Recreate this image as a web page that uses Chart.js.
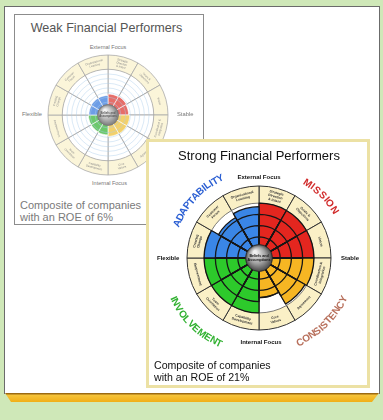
<!DOCTYPE html>
<html><head><meta charset="utf-8">
<script src="https://cdn.jsdelivr.net/npm/chart.js@4/dist/chart.umd.min.js"></script>
<style>
html,body{margin:0;padding:0;}
body{width:383px;height:420px;background:#cfe8b8;position:relative;overflow:hidden;font-family:"Liberation Sans",Arial,sans-serif;}
.abs{position:absolute;}
#panel{left:4px;top:6px;width:374px;height:387px;background:#fff;border:1px solid #6b6b6b;border-bottom:none;}
#band{left:5px;top:393px;width:374px;height:9px;background:linear-gradient(#9c6a12 0,#9c6a12 1px,#f6c43a 2px,#f1ae17 100%);clip-path:polygon(0 0,100% 0,calc(100% - 7px) 100%,6px 100%);}
#weak{left:14px;top:14px;width:188px;height:209px;border:1px solid #8c8c8c;background:#fff;}
#strong{left:146px;top:139px;width:224px;height:249px;box-sizing:border-box;border:3px solid #ece1a4;background:#fff;}
.lbl{position:absolute;white-space:nowrap;line-height:1;}
</style></head>
<body>
<div id="panel" class="abs"></div>
<div id="band" class="abs"></div>
<div id="weak" class="abs"></div>
<canvas id="cw" class="abs" width="124" height="124" style="left:46px;top:53px;width:124px;height:124px"></canvas>
<div id="strong" class="abs"></div>
<canvas id="cs" class="abs" width="148" height="148" style="left:185px;top:184px;width:148px;height:148px"></canvas>
<script>
// ---------- data ----------
const categories = ["Strategic Direction & Intent","Goals & Objectives","Vision",
  "Coordination & Integration","Agreement","Core Values",
  "Capability Development","Team Orientation","Empowerment",
  "Creating Change","Customer Focus","Organizational Learning"];
const labelLines = [["Strategic","Direction","& Intent"],["Goals &","Objectives"],["Vision"],
  ["Coordination &","Integration"],["Agreement"],["Core","Values"],
  ["Capability","Development"],["Team","Orientation"],["Empowerment"],
  ["Creating","Change"],["Customer","Focus"],["Organizational","Learning"]];
const traits = ["MISSION","CONSISTENCY","INVOLVEMENT","ADAPTABILITY"];
const strongValues = [100,100,100,100,96,66,100,100,100,100,82,92];
const weakValues   = [34,35,33,36,36,35,31,30,30,29,30,30];
const ringLevels = [25,50,75];
const weakRingLevels = [12.5,25,37.5,50,62.5,75,87.5];
const axisLabels = ["External Focus","Stable","Internal Focus","Flexible"];
const titles = ["Weak Financial Performers","Strong Financial Performers"];
const notes = [["Composite of companies","with an ROE of 6%"],["Composite of companies","with an ROE of 21%"]];
const centerLabel = ["Beliefs and","Assumptions"];

const SCALE_MIN = -22, FULL = 100, SCALE_MAX = 138;

// ---------- charts ----------
const decor = {
  id:'decor',
  afterDraw(chart, args, o){
    const s = chart.scales.r, ctx = chart.ctx;
    const rIn = s.getDistanceFromCenterForValue(FULL), rOut = s.getDistanceFromCenterForValue(SCALE_MAX);
    const rMid = (rIn + rOut)/2;
    ctx.save();
    ctx.font = (o.strong?'bold ':'') + o.fs + 'px "Liberation Sans", Arial, sans-serif';
    ctx.fillStyle = o.color; ctx.textAlign='center'; ctx.textBaseline='middle';
    labelLines.forEach((lines,i)=>{
      const p = s.getPointPosition(i, rMid, Math.PI/12);
      let rot = p.angle + Math.PI/2;
      while (rot > Math.PI) rot -= 2*Math.PI;
      while (rot < -Math.PI) rot += 2*Math.PI;
      if (rot > Math.PI/2 + 0.01 || rot < -Math.PI/2 - 0.01) rot -= Math.PI;
      ctx.save(); ctx.translate(p.x,p.y); ctx.rotate(rot);
      const lh = o.fs*1.15;
      lines.forEach((t,k)=>ctx.fillText(t,0,(k-(lines.length-1)/2)*lh));
      ctx.restore();
    });
    // central sphere
    const cx = s.xCenter, cy = s.yCenter, rs = o.sphere;
    const g = ctx.createRadialGradient(cx-rs*0.3, cy-rs*0.45, rs*0.1, cx, cy, rs);
    g.addColorStop(0, o.strong?'#f2f2f2':'#f4f4f4');
    g.addColorStop(0.55, o.strong?'#a3a3a3':'#b9b9b9');
    g.addColorStop(1, o.strong?'#474747':'#7a7a7a');
    ctx.beginPath(); ctx.arc(cx,cy,rs,0,Math.PI*2); ctx.fillStyle=g; ctx.fill();
    ctx.lineWidth=0.8; ctx.strokeStyle=o.strong?'#222':'#777'; ctx.stroke();
    ctx.font = 'bold ' + o.cfs + 'px "Liberation Sans", Arial, sans-serif';
    ctx.fillStyle = o.strong?'#111':'#555';
    ctx.fillText(centerLabel[0], cx, cy - o.cfs*0.6);
    ctx.fillText(centerLabel[1], cx, cy + o.cfs*0.6);
    ctx.restore();
  }
};

function wheel(id, values, strong){
  const pal = strong ? ['#e4261f','#f6b623','#2dca2b','#3a86e6'] : ['#e66e69','#f2d06c','#6dc86b','#6d9de6'];
  const colors = values.map((v,i)=>pal[Math.floor(i/3)]);
  const ds = [];
  if (strong) ringLevels.forEach(L=>ds.push({data:values.map(v=>Math.min(v,L)),backgroundColor:'rgba(0,0,0,0)',borderColor:'#161616',borderWidth:1.3}));
  ds.push({data:values,backgroundColor:colors,borderColor:strong?'#161616':'rgba(255,255,255,0.8)',borderWidth:strong?1.3:0.8});
  ds.push({data:values.map(()=>FULL),backgroundColor:'#ffffff',borderColor:strong?'#5a5a5a':'#a3a3a3',borderWidth:0.8});
  ds.push({data:values.map(()=>SCALE_MAX),backgroundColor:strong?'#faf0c6':'#fbf5d9',borderColor:strong?'#333':'#aaaaaa',borderWidth:strong?1:0.8});
  return new Chart(document.getElementById(id),{
    type:'polarArea',
    data:{labels:categories,datasets:ds.map(d=>Object.assign({clip:false},d))},
    options:{
      responsive:false, animation:false, events:[], devicePixelRatio:1,
      layout:{padding:2},
      plugins:{legend:{display:false},tooltip:{enabled:false},
        decor:{strong:strong,fs:strong?3.4:2.8,color:strong?'#333':'#8a8a8a',sphere:strong?13.5:10.5,cfs:strong?3.6:2.8}},
      scales:{r:{min:SCALE_MIN,max:SCALE_MAX,startAngle:0,
        ticks:{display:false},pointLabels:{display:false},angleLines:{display:false},
        afterBuildTicks:s=>{ if(!strong) s.ticks = weakRingLevels.map(v=>({value:v})); },
        grid:{display:!strong,circular:true,color:'rgba(170,205,235,0.55)',lineWidth:0.8,z:1}}}
    },
    plugins:[decor]
  });
}
wheel('cw', weakValues, false);
wheel('cs', strongValues, true);

// ---------- text ----------
function txt(s,x,y,css,align){
  const d=document.createElement('div'); d.className='lbl'; d.textContent=s;
  d.style.cssText += css; d.style.left=x+'px'; d.style.top=y+'px';
  d.style.transform = align==='l' ? 'translate(0,-50%)' : 'translate(-50%,-50%)';
  document.body.appendChild(d);
}
// weak card
txt(titles[0],106.5,28,'font-size:12.6px;color:#555;');
txt(axisLabels[0],108,48,'font-size:5.5px;color:#777;');
txt(axisLabels[3],22,114.5,'font-size:5.8px;color:#777;','l');
txt(axisLabels[1],177,115,'font-size:5.8px;color:#777;','l');
txt(axisLabels[2],109.5,184,'font-size:5.5px;color:#777;');
txt(notes[0][0],20,204.5,'font-size:11px;color:#7a7a7a;','l');
txt(notes[0][1],20,216.5,'font-size:11px;color:#7a7a7a;','l');
// strong card
txt(titles[1],259,155,'font-size:13px;color:#111;');
txt(axisLabels[0],259,177,'font-size:6px;font-weight:bold;color:#111;');
txt(axisLabels[3],157,258,'font-size:6px;font-weight:bold;color:#111;','l');
txt(axisLabels[1],341,258,'font-size:6px;font-weight:bold;color:#111;','l');
txt(axisLabels[2],261,342,'font-size:6px;font-weight:bold;color:#111;');
txt(notes[1][0],154,365,'font-size:10.6px;color:#111;','l');
txt(notes[1][1],154,377,'font-size:10.6px;color:#111;','l');

// curved trait names
const mctx = document.createElement('canvas').getContext('2d');
function arcText(word,color,cx,cy,r,a0,a1,fs,top){
  const font = 'bold '+fs+'px "Liberation Sans", Arial, sans-serif';
  mctx.font = font;
  const ws = [...word].map(c=>mctx.measureText(c).width);
  const cs=[]; let acc=0;
  ws.forEach(w=>{cs.push(acc+w/2); acc+=w;});
  const c0=cs[0], c1=cs[cs.length-1];
  [...word].forEach((ch,k)=>{
    const th = a0 + (a1-a0)*(cs[k]-c0)/(c1-c0);
    const rad = th*Math.PI/180;
    const x = cx + r*Math.sin(rad), y = cy - r*Math.cos(rad);
    const rot = top ? th : th-180;
    const d=document.createElement('div'); d.className='lbl'; d.textContent=ch;
    d.style.cssText='font:'+font+';color:'+color+';left:'+x+'px;top:'+y+'px;transform:translate(-50%,-50%) rotate('+rot+'deg);';
    document.body.appendChild(d);
  });
}
arcText(traits[3],'#2b5fd3',259,258,89,-67,-26,10,true);
arcText(traits[0],'#d12b2b',259,258,90,33,58,10,true);
arcText(traits[2],'#33b233',259,258,94,-115,-155,10,false);
arcText(traits[1],'#b8705c',259,258,93,154,116,10,false);
</script>
</body></html>
